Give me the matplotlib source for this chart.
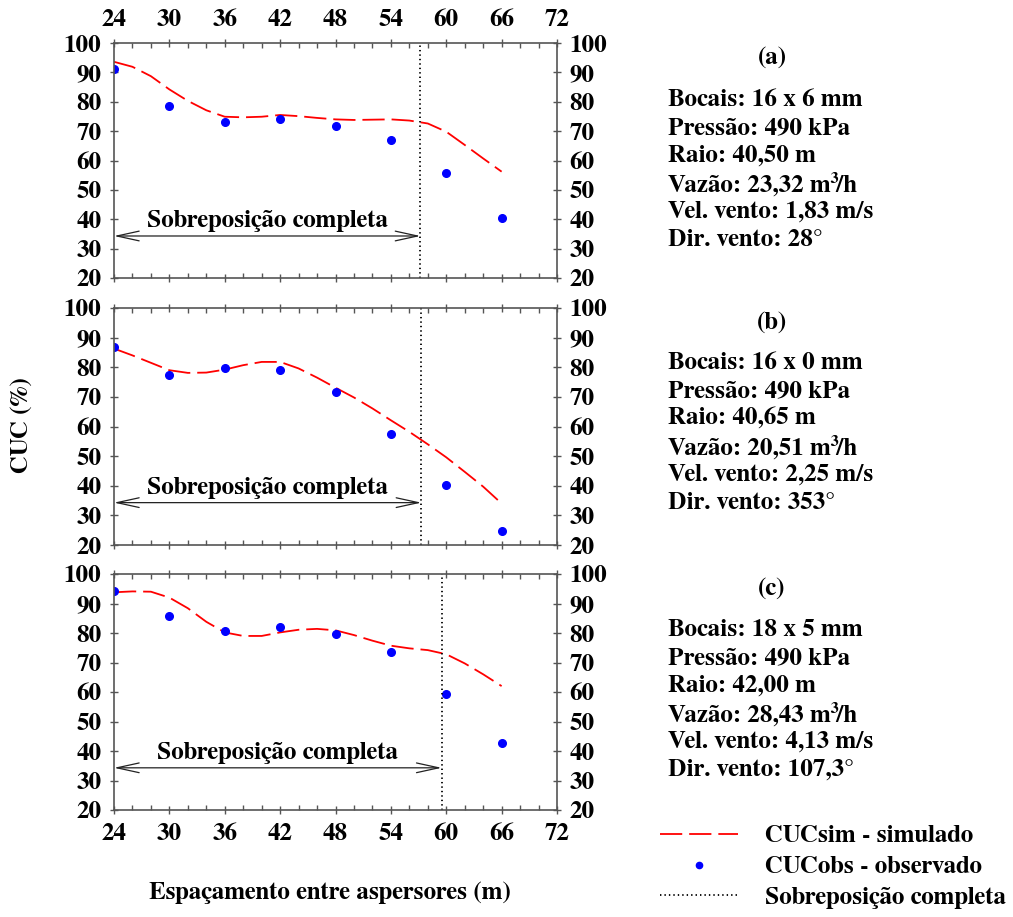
import numpy as np
import matplotlib
matplotlib.use("Agg")
import matplotlib.pyplot as plt
from matplotlib.lines import Line2D

plt.rcParams['font.family'] = ['FreeSerif', 'Liberation Serif', 'DejaVu Serif']
plt.rcParams['font.weight'] = 'bold'
plt.rcParams['lines.scale_dashes'] = False

# ---------------- data ----------------
spacing_obs = [24, 30, 36, 42, 48, 54, 60, 66]
spacing_sim = [24, 26, 28, 30, 32, 34, 36, 38, 40, 42, 44, 46, 48, 50, 52, 54, 56, 58, 60, 62, 64, 66]

obs_a = [91.2, 78.4, 73.2, 74.0, 71.6, 67.1, 55.8, 40.4]
sim_a = [93.6, 91.9, 88.7, 84.2, 80.3, 77.1, 74.9, 74.7, 74.9, 75.5, 75.1, 74.5,
         74.0, 73.8, 73.9, 74.0, 73.6, 72.6, 69.8, 65.3, 60.7, 56.2]
overlap_a = 57.2

obs_b = [86.9, 77.3, 79.7, 79.1, 71.6, 57.4, 40.4, 24.7]
sim_b = [86.3, 84.0, 81.5, 79.0, 78.1, 78.2, 79.2, 80.7, 81.8, 81.8, 79.6, 76.5,
         73.1, 69.8, 66.1, 62.1, 58.2, 54.0, 49.6, 44.7, 39.7, 34.0]
overlap_b = 57.3

obs_c = [94.1, 85.9, 80.7, 81.9, 79.8, 73.4, 59.4, 42.8]
sim_c = [93.8, 94.1, 94.0, 92.0, 88.4, 83.8, 80.2, 79.0, 79.0, 80.2, 81.1, 81.4,
         80.9, 79.3, 77.4, 75.7, 74.8, 74.2, 72.8, 69.7, 66.0, 62.0]
overlap_c = 59.5

panel_tags = ['(a)', '(b)', '(c)']
panel_info = [
    ['Bocais: 16 x 6 mm', 'Pressão: 490 kPa', 'Raio: 40,50 m',
     'Vazão: 23,32 m³/h', 'Vel. vento: 1,83 m/s', 'Dir. vento: 28°'],
    ['Bocais: 16 x 0 mm', 'Pressão: 490 kPa', 'Raio: 40,65 m',
     'Vazão: 20,51 m³/h', 'Vel. vento: 2,25 m/s', 'Dir. vento: 353°'],
    ['Bocais: 18 x 5 mm', 'Pressão: 490 kPa', 'Raio: 42,00 m',
     'Vazão: 28,43 m³/h', 'Vel. vento: 4,13 m/s', 'Dir. vento: 107,3°'],
]
x_ticks = [24, 30, 36, 42, 48, 54, 60, 66, 72]
y_ticks = [20, 30, 40, 50, 60, 70, 80, 90, 100]
overlap_label = 'Sobreposição completa'

# ---------------- figure ----------------
W, H = 1013, 917
fig = plt.figure(figsize=(W / 100, H / 100), dpi=100)

def fx(px):
    return px / W

def fy(py):
    return 1 - py / H

panel_px = [(43, 278), (308, 545), (574, 810)]
left_px, right_px = 114, 557
FS = 18
TFS = 18
spine_col = '#555555'
sim_col = '#ff0000'
obs_col = '#0000ff'

sims = [sim_a, sim_b, sim_c]
obss = [obs_a, obs_b, obs_c]
overlaps = [overlap_a, overlap_b, overlap_c]
tag_y = [58, 323, 589]
info_y0 = [100, 363, 630]

for i, (top, bot) in enumerate(panel_px):
    ax = fig.add_axes([fx(left_px), fy(bot), fx(right_px - left_px), (bot - top) / H])
    ax.plot(spacing_sim, sims[i], color=sim_col, lw=1.3, linestyle=(0, (16, 5)))
    ax.plot(spacing_obs, obss[i], 'o', color=obs_col, ms=5.5, mec=obs_col)
    ax.axvline(overlaps[i], color='black', lw=1.3, linestyle=(0, (1, 2.2)))
    ax.annotate('', xy=(24, 34.3), xytext=(overlaps[i], 34.3),
                arrowprops=dict(arrowstyle='<->,head_length=1.6,head_width=0.35',
                                color='#222222', lw=0.9, shrinkA=0, shrinkB=0))
    ax.text((24 + overlaps[i]) / 2, 35.6, overlap_label, ha='center', va='bottom',
            fontsize=FS, fontweight='bold')
    ax.set_xlim(24, 72)
    ax.set_ylim(20, 100)
    ax.set_xticks(x_ticks)
    ax.set_xticks(np.arange(24, 73, 2), minor=True)
    ax.set_yticks(y_ticks)
    ax.tick_params(axis='both', which='major', direction='inout', length=6,
                   width=1, color=spine_col, labelsize=TFS, pad=6,
                   top=True, right=True, labelright=True,
                   labeltop=(i == 0), labelbottom=(i == 2))
    ax.tick_params(axis='x', which='minor', direction='in', length=3.5,
                   width=1, color=spine_col, top=True, bottom=True)
    for lab in ax.get_xticklabels() + ax.get_yticklabels():
        lab.set_fontweight('bold')
    for sp in ax.spines.values():
        sp.set_color(spine_col)
        sp.set_linewidth(1.2)

    fig.text(fx(772), fy(tag_y[i]), panel_tags[i], ha='center', va='center',
             fontsize=FS, fontweight='bold')
    for k, line in enumerate(panel_info[i]):
        fig.text(fx(668), fy(info_y0[i] + 28 * k), line, ha='left', va='center',
                 fontsize=FS, fontweight='bold')

fig.text(fx(22), fy(425), 'CUC (%)', rotation=90, ha='center', va='center',
         fontsize=FS, fontweight='bold')
fig.text(fx(330), fy(893), 'Espaçamento entre aspersores (m)', ha='center',
         va='center', fontsize=FS, fontweight='bold')

handles = [
    Line2D([], [], color=sim_col, lw=1.3, linestyle=(0, (16, 5))),
    Line2D([], [], color=obs_col, marker='o', ls='none', ms=4.5),
    Line2D([], [], color='black', lw=1.3, linestyle=(0, (1, 2.2))),
]
labels = ['CUCsim - simulado', 'CUCobs - observado', overlap_label]
fig.legend(handles, labels, loc='upper left', bbox_to_anchor=(fx(660), fy(825)),
           frameon=False, handlelength=3.1, handletextpad=1.1,
           labelspacing=0.33, borderpad=0, borderaxespad=0,
           prop={'weight': 'bold', 'size': FS})

fig.savefig('out.png', dpi=100)
